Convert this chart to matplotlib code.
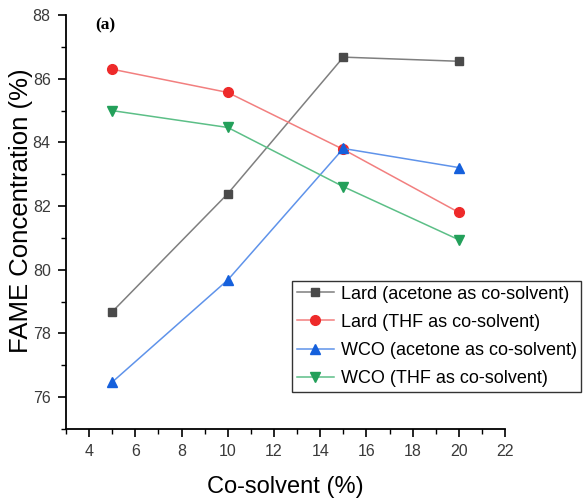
import matplotlib
matplotlib.use("Agg")
import matplotlib.pyplot as plt
from matplotlib.ticker import MultipleLocator

cosolvent = [5, 10, 15, 20]
lard_acetone = [78.68, 82.39, 86.68, 86.55]
lard_thf = [86.30, 85.57, 83.78, 81.80]
wco_acetone = [76.47, 79.68, 83.81, 83.21]
wco_thf = [85.00, 84.47, 82.61, 80.94]

labels = [
    "Lard (acetone as co-solvent)",
    "Lard (THF as co-solvent)",
    "WCO (acetone as co-solvent)",
    "WCO (THF as co-solvent)",
]

plt.rcParams["font.family"] = ["Liberation Sans", "DejaVu Sans"]

fig = plt.figure(figsize=(5.84, 5.04), dpi=100)
ax = fig.add_axes([0.113, 0.149, 0.752, 0.821])

series = [
    (lard_acetone, "s", "#7f7f7f", "#4a4a4a", 6),
    (lard_thf, "o", "#f27f7f", "#ee2a2a", 7),
    (wco_acetone, "^", "#5f93ea", "#1560dc", 7),
    (wco_thf, "v", "#5cbf87", "#23a05a", 7),
]
handles = []
for vals, mk, lc, mc, ms in series:
    (h,) = ax.plot(cosolvent, vals, color=lc, linewidth=1.1, marker=mk,
                   markersize=ms, markerfacecolor=mc, markeredgecolor=mc)
    handles.append(h)

ax.set_xlim(3, 22)
ax.set_ylim(75, 88)
ax.xaxis.set_major_locator(MultipleLocator(2))
ax.xaxis.set_minor_locator(MultipleLocator(1))
ax.yaxis.set_major_locator(MultipleLocator(2))
ax.yaxis.set_minor_locator(MultipleLocator(1))
ax.set_xticks(range(4, 23, 2))
ax.tick_params(which="major", direction="out", length=6, width=1.2,
               labelsize=11.5, labelcolor="#3a3a3a", pad=5)
ax.tick_params(which="minor", direction="out", length=3.5, width=1.0)
ax.spines["top"].set_visible(False)
ax.spines["right"].set_visible(False)
for s in ("left", "bottom"):
    ax.spines[s].set_linewidth(1.3)

ax.set_xlabel("Co-solvent (%)", fontsize=17, labelpad=12)
ax.set_ylabel("FAME Concentration (%)", fontsize=18.5)
ax.yaxis.set_label_coords(-0.075, 0.527)

ax.text(0.09, 0.995, "(a)", transform=ax.transAxes, fontsize=12.5,
        fontweight="bold", family="Liberation Serif", va="top", ha="center")

leg = fig.legend(handles, labels, loc="upper left",
                 bbox_to_anchor=(0.5, 1 - 281 / 504), bbox_transform=fig.transFigure,
                 fontsize=13, frameon=True, fancybox=False, handlelength=2.1,
                 handletextpad=0.35, borderpad=0.25, labelspacing=0.62,
                 borderaxespad=0)
leg.get_frame().set_edgecolor("black")
leg.get_frame().set_linewidth(1.0)

fig.savefig("out.png", dpi=100)
